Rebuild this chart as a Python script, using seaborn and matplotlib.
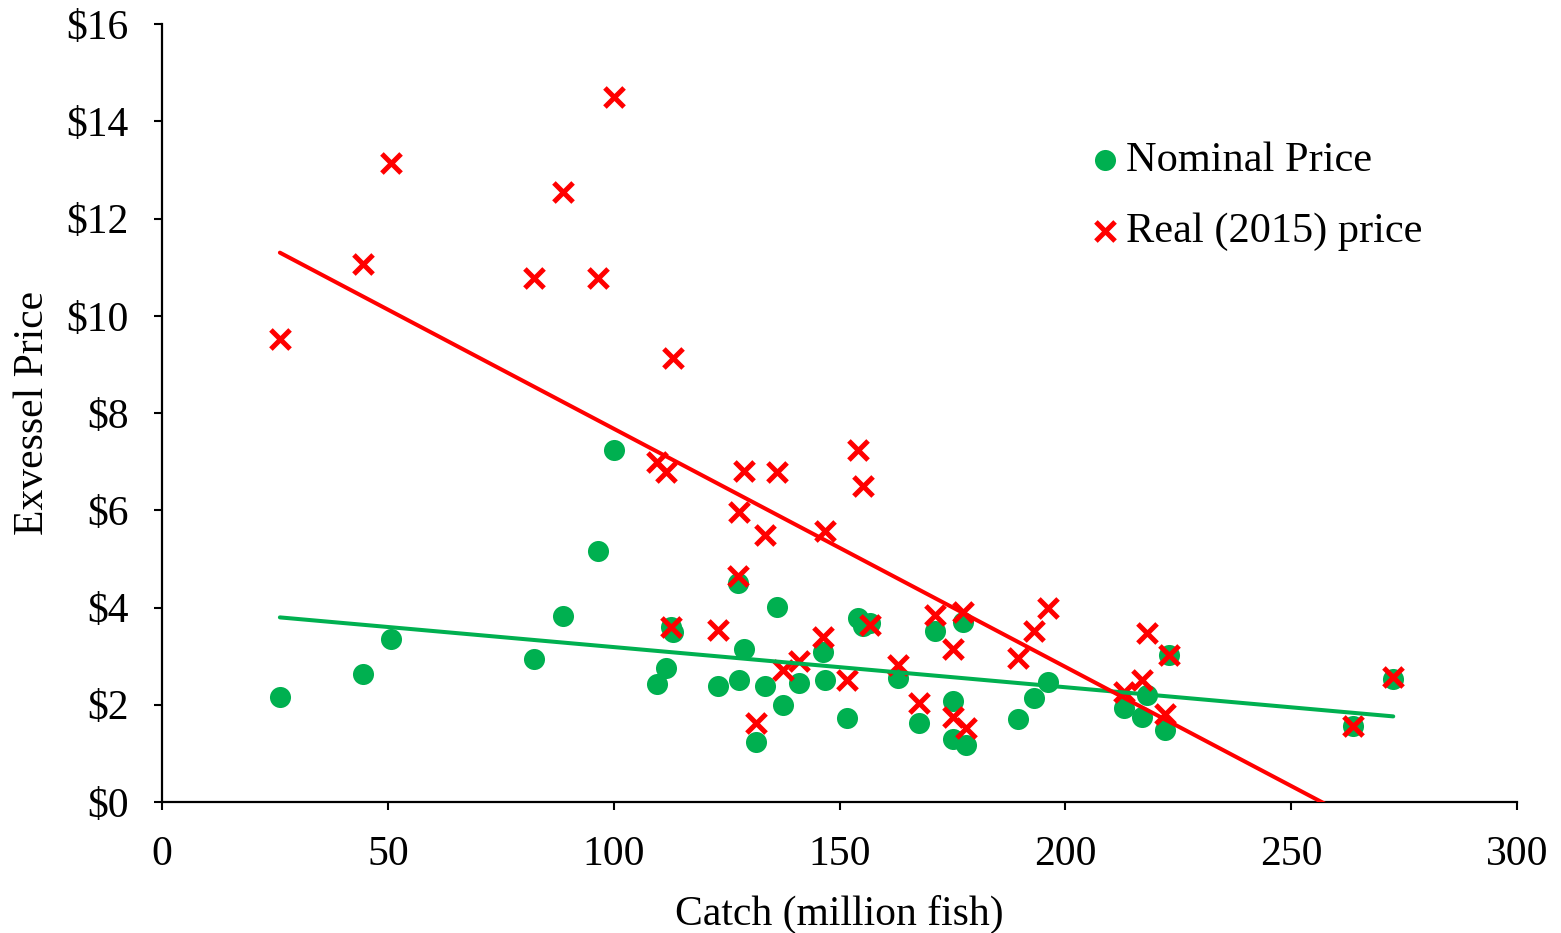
import numpy as np
import pandas as pd
import matplotlib
matplotlib.use("Agg")
import matplotlib.pyplot as plt
from matplotlib.ticker import FuncFormatter
import seaborn as sns

# ---- data ----
catch = [26.1, 44.4, 50.8, 82.3, 88.7, 96.5, 100.1, 109.7, 111.6, 112.6,
         113.2, 123.2, 127.5, 127.7, 128.9, 131.5, 133.6, 136.2, 137.6, 141.1,
         146.4, 146.7, 151.6, 154.1, 155.2, 156.8, 163.0, 167.7, 171.1, 175.2,
         175.2, 177.3, 178.1, 189.6, 193.1, 196.1, 213.0, 216.9, 218.0, 222.1,
         223.0, 263.6, 272.6]
nominal = [2.15, 2.64, 3.35, 2.95, 3.83, 5.16, 7.23, 2.42, 2.75, 3.59,
           3.50, 2.39, 4.50, 2.50, 3.14, 1.23, 2.39, 4.01, 1.99, 2.44,
           3.08, 2.51, 1.72, 3.78, 3.61, 3.68, 2.54, 1.62, 3.52, 2.08,
           1.30, 3.71, 1.17, 1.70, 2.13, 2.47, 1.93, 1.75, 2.20, 1.48,
           3.02, 1.56, 2.53]
real = [9.52, 11.06, 13.15, 10.77, 12.55, 10.78, 14.49, 6.99, 6.79, 3.59,
        9.14, 3.54, 4.65, 5.96, 6.81, 1.62, 5.49, 6.78, 2.72, 2.89,
        3.39, 5.57, 2.51, 7.23, 6.50, 3.64, 2.82, 2.03, 3.85, 3.14,
        1.75, 3.91, 1.52, 2.96, 3.52, 3.98, 2.27, 2.51, 3.47, 1.82,
        3.02, 1.56, 2.57]

x_ticks = [0, 50, 100, 150, 200, 250, 300]
y_ticks = [0, 2, 4, 6, 8, 10, 12, 14, 16]
label_nominal = "Nominal Price"
label_real = "Real (2015) price"

df = pd.DataFrame({"catch": catch, "nominal": nominal, "real": real})

GREEN = "#00B050"
RED = "#FF0000"

sns.set_theme(style="white")
plt.rcParams["font.family"] = ["Liberation Serif", "DejaVu Serif"]
plt.rcParams["text.color"] = "black"
plt.rcParams["axes.labelcolor"] = "black"

fig = plt.figure(figsize=(15.61, 9.33), dpi=100)
ax = fig.add_axes([162 / 1561, 1 - 802 / 933, (1517 - 162) / 1561, (802 - 24) / 933])

sns.scatterplot(data=df, x="catch", y="nominal", ax=ax, color=GREEN, s=230,
                linewidth=0, marker="o", label=label_nominal, zorder=3)
sns.scatterplot(data=df, x="catch", y="real", ax=ax, color=RED, s=190,
                linewidth=3.6, marker="x", label=label_real, zorder=4)
sns.regplot(data=df, x="catch", y="nominal", ax=ax, scatter=False, ci=None,
            color=GREEN, line_kws={"linewidth": 2.9, "zorder": 5,
                                   "solid_capstyle": "round"})
sns.regplot(data=df, x="catch", y="real", ax=ax, scatter=False, ci=None,
            color=RED, line_kws={"linewidth": 2.9, "zorder": 6,
                                 "solid_capstyle": "round"})

ax.set_xlim(0, 300)
ax.set_ylim(0, 16)
ax.set_xticks(x_ticks)
ax.set_yticks(y_ticks)
ax.yaxis.set_major_formatter(FuncFormatter(lambda v, p: f"${v:.0f}"))

for side in ["top", "right"]:
    ax.spines[side].set_visible(False)
for side in ["left", "bottom"]:
    ax.spines[side].set_color("black")
    ax.spines[side].set_linewidth(1.6)

ax.tick_params(axis="both", which="major", direction="out", length=6,
               width=1.5, color="black", labelsize=30, labelcolor="black")
ax.tick_params(axis="x", pad=18, bottom=True)
ax.tick_params(axis="y", pad=18, left=True)

ax.set_xlabel("Catch (million fish)", fontsize=30, color="black", labelpad=15)
ax.set_ylabel("Exvessel Price", fontsize=30, color="black", labelpad=10)

leg = ax.legend(loc="upper left", bbox_to_anchor=(1092 / 1561, 1 - 141 / 933),
                bbox_transform=fig.transFigure, frameon=False, fontsize=30.5,
                handlelength=0.6, handletextpad=0.2, labelspacing=0.77,
                borderpad=0, borderaxespad=0, markerscale=1.0)
for t in leg.get_texts():
    t.set_color("black")

fig.savefig("out.png", dpi=100)
